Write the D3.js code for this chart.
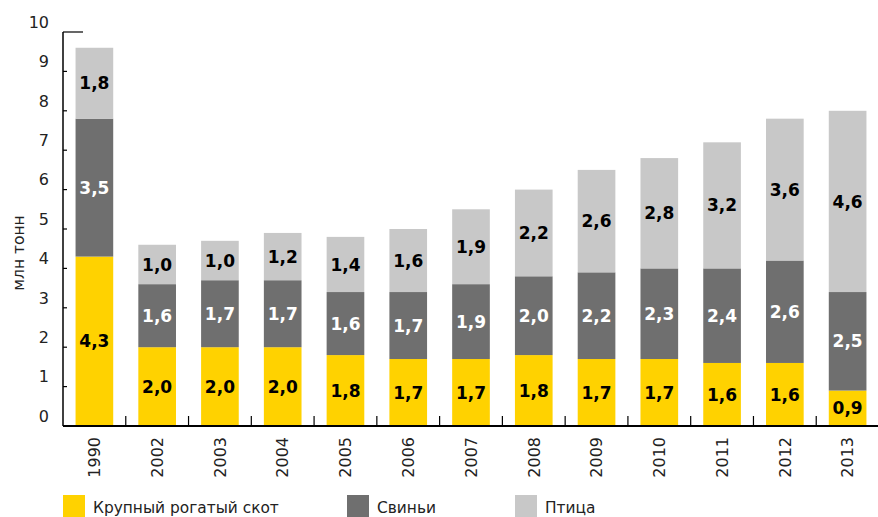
<!DOCTYPE html>
<html><head><meta charset="utf-8">
<script src="https://cdn.jsdelivr.net/npm/d3@7"></script>
<style>body{margin:0;background:#fff}svg{display:block}</style>
</head><body>
<svg id="chart" width="878" height="517"></svg>
<script>
const years = ["1990","2002","2003","2004","2005","2006","2007","2008","2009","2010","2011","2012","2013"];
const cattle  = [4.3,2.0,2.0,2.0,1.8,1.7,1.7,1.8,1.7,1.7,1.6,1.6,0.9];
const pigs    = [3.5,1.6,1.7,1.7,1.6,1.7,1.9,2.0,2.2,2.3,2.4,2.6,2.5];
const poultry = [1.8,1.0,1.0,1.2,1.4,1.6,1.9,2.2,2.6,2.8,3.2,3.6,4.6];
const seriesNames = ["Крупный рогатый скот","Свиньи","Птица"];
const yTicks = [0,1,2,3,4,5,6,7,8,9,10];
const colors = ["#ffd200","#6f6f6f","#c8c8c8"];
const labelColors = ["#000","#fff","#000"];

const svg = d3.select("#chart");
const font = "DejaVu Sans, Verdana, sans-serif";
const x0 = 63, x1 = 879, yTop = 32, yBottom = 426;

const x = d3.scaleBand().domain(years).range([x0, x1]).paddingInner(0.4).paddingOuter(0.2);
const y = d3.scaleLinear().domain([0,10]).range([yBottom, yTop]);

const table = years.map((yr,i)=>({year:yr, c:cattle[i], p:pigs[i], b:poultry[i]}));
const stack = d3.stack().keys(["c","p","b"])(table);

const g = svg.append("g");
stack.forEach((layer, li) => {
  g.selectAll(null).data(layer).enter().append("rect")
    .attr("x", d => x(d.data.year))
    .attr("width", x.bandwidth())
    .attr("y", d => y(d[1]))
    .attr("height", d => y(d[0]) - y(d[1]))
    .attr("fill", colors[li]);
  g.selectAll(null).data(layer).enter().append("text")
    .attr("x", d => x(d.data.year) + x.bandwidth()/2)
    .attr("y", d => (y(d[0]) + y(d[1]))/2)
    .attr("dy", "0.36em")
    .attr("text-anchor", "middle")
    .attr("font-family", font).attr("font-weight", "bold").attr("font-size", 17)
    .attr("fill", labelColors[li])
    .text(d => d3.format(".1f")(d[1]-d[0]).replace(".", ","));
});

// y axis
const yAxis = svg.append("g").attr("stroke", "#000");
yAxis.append("line").attr("x1", x0).attr("x2", x0).attr("y1", y(10)).attr("y2", y(0)).attr("stroke-width", 1.5);
yAxis.selectAll(null).data(yTicks.slice(1)).enter().append("line")
  .attr("x1", x0).attr("x2", d => d === 10 ? x0 + 20 : x0 + 4)
  .attr("y1", d => y(d)).attr("y2", d => y(d)).attr("stroke-width", 1.2);
svg.selectAll(null).data(yTicks).enter().append("text")
  .attr("x", 49).attr("y", d => y(d) - 10).attr("dy", "0.36em")
  .attr("text-anchor", "end").attr("font-family", font).attr("font-size", 16).attr("fill", "#222")
  .text(d => d);

// x axis
svg.append("line").attr("x1", x0).attr("x2", x1).attr("y1", yBottom).attr("y2", yBottom)
  .attr("stroke", "#000").attr("stroke-width", 2);
const bounds = years.slice(1).map(yr => x(yr) - x.step()*x.paddingInner()/2);
svg.selectAll(null).data(bounds).enter().append("line")
  .attr("x1", d => d).attr("x2", d => d).attr("y1", yBottom).attr("y2", yBottom - 10)
  .attr("stroke", "#000").attr("stroke-width", 1.2);
svg.selectAll(null).data(years).enter().append("text")
  .attr("transform", d => `translate(${x(d)+x.bandwidth()/2},437) rotate(-90)`)
  .attr("dy", "0.36em").attr("text-anchor", "end")
  .attr("font-family", font).attr("font-size", 16).attr("fill", "#222")
  .text(d => d);

// y label
svg.append("text").attr("transform", "translate(18,253) rotate(-90)")
  .attr("dy", "0.36em").attr("text-anchor", "middle")
  .attr("font-family", font).attr("font-size", 15.5).attr("fill", "#222")
  .text("млн тонн");

// legend
const legendX = [63, 347, 515];
seriesNames.forEach((name, i) => {
  svg.append("rect").attr("x", legendX[i]).attr("y", 495).attr("width", 22).attr("height", 22).attr("fill", colors[i]);
  svg.append("text").attr("x", legendX[i] + 30).attr("y", 507).attr("dy", "0.36em")
    .attr("font-family", font).attr("font-size", 15.4).attr("fill", "#222").text(name);
});
</script>
</body></html>
